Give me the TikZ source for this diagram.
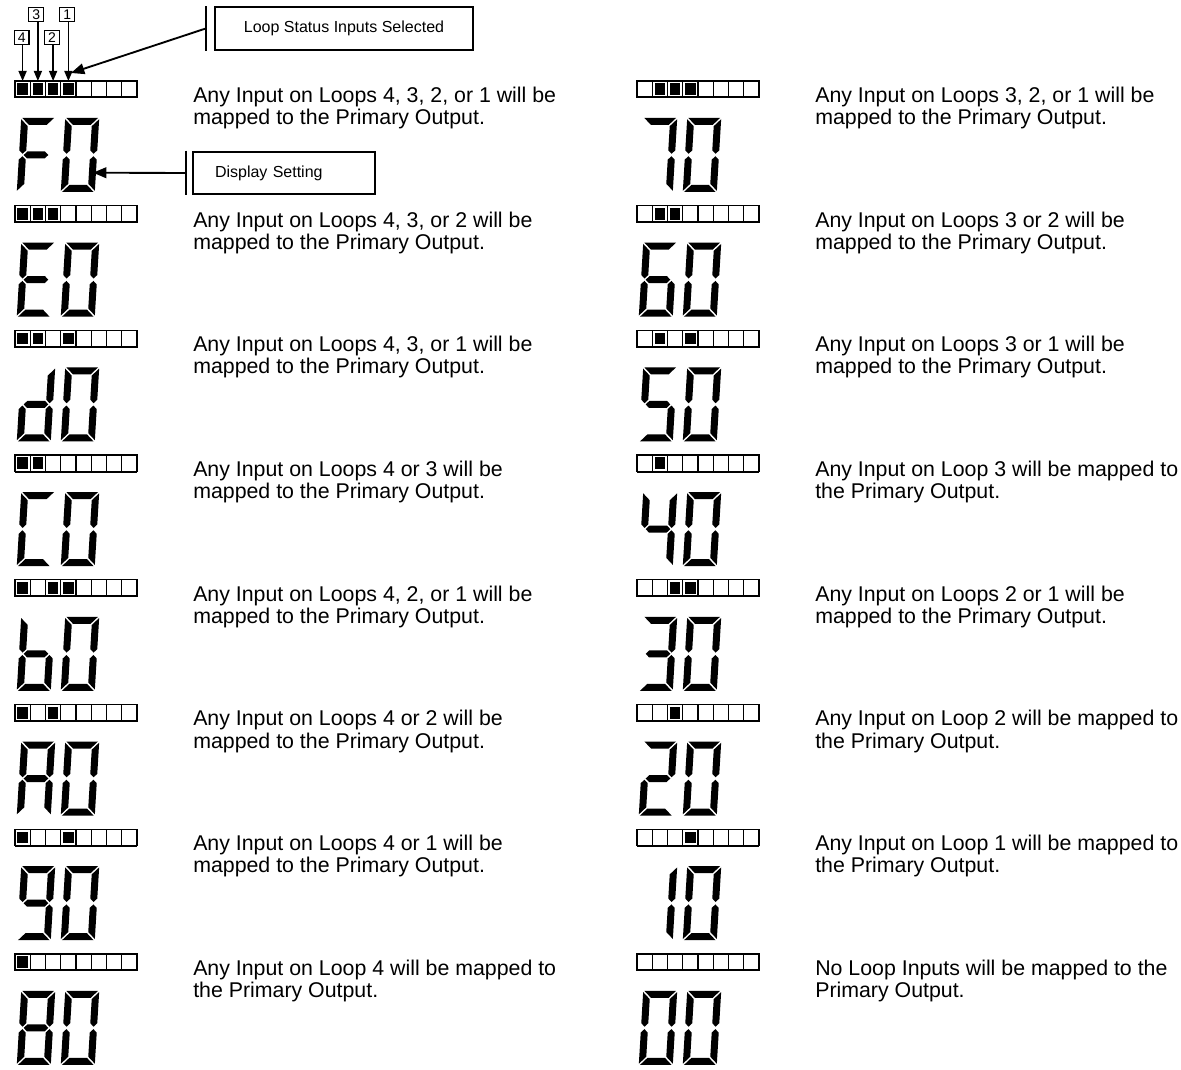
\documentclass[tikz,border=0pt]{standalone}
\usepackage{fontspec}
\setmainfont{Liberation Sans}
\usetikzlibrary{arrows.meta}
% seven-segment pieces, local px coords, origin at left of vertical middle, y down
\def\dsga{(1.2,-37) -- (32.8,-37) -- (25.8,-30) -- (8.2,-30) -- cycle}
\def\dsgf{(0,-35.8) -- (7,-28.8) -- (7,-4.7) -- (3.5,-1.2) -- (0,-4.7) -- cycle}
\def\dsgg{(4.7,0) -- (8.2,-3.5) -- (25.8,-3.5) -- (29.3,0) -- (25.8,3.5) -- (8.2,3.5) -- cycle}
\def\dsge{(0,35.8) -- (7,28.8) -- (7,4.7) -- (3.5,1.2) -- (0,4.7) -- cycle}
\def\dsgb{(34,-35.8) -- (27,-28.8) -- (27,-4.7) -- (30.5,-1.2) -- (34,-4.7) -- cycle}
\def\dsgc{(34,35.8) -- (27,28.8) -- (27,4.7) -- (30.5,1.2) -- (34,4.7) -- cycle}
\def\dsgd{(1.2,37) -- (32.8,37) -- (25.8,30) -- (8.2,30) -- cycle}
\newcommand\sevdig[3]{\edef\dglist{#3}%
  \begin{scope}[shift={(#1,#2)},xslant=0.06]
    \foreach \s in \dglist {\expandafter\expandafter\expandafter\fill\csname dsg\s\endcsname;}
  \end{scope}}
\newcommand\ledbar[3]{\edef\lblist{#3}%
  \foreach \bt [count=\k from 0] in \lblist {%
    \draw[cellline] (#1+\k*15.25,#2) rectangle ++(15.25,16.5);
    \ifnum\bt=1 \fill (#1+\k*15.25+2.3,#2+2.3) rectangle ++(10.65,11.7);\fi}
  \draw[line width=1.5pt] (#1,#2+16.5) -- ++(122,0);}
\tikzset{
  cellline/.style={line width=0.95pt},
  desc/.style={anchor=base west, align=left, inner sep=0pt, font=\fontsize{16}{16.6}\selectfont},
  numbox/.style={draw, line width=0.9pt, minimum width=11pt, minimum height=11pt, inner sep=0pt, font=\fontsize{10.5}{11}\selectfont},
  callout/.style={draw, line width=1.5pt, minimum height=32pt, inner ysep=0pt, font=\fontsize{12}{13}\selectfont},
  callbar/.style={line width=1.5pt},
  smallarr/.style={line width=1.1pt, -{Triangle[length=7.5pt,width=6pt]}},
  bigarr/.style={line width=1.4pt, -{Triangle[length=10pt,width=8pt]}}
}
\begin{document}
\begin{tikzpicture}[x=0.75pt,y=-0.75pt]
\useasboundingbox (0,0) rectangle (1181,1070);
\foreach \ex/\i/\da/\bits/\la/\lb in {
  15/0/{a,f,g,e}/{1,1,1,1,0,0,0,0}/{Any Input on Loops 4, 3, 2, or 1 will be}/{mapped to the Primary Output.},
  15/1/{a,f,g,e,d}/{1,1,1,0,0,0,0,0}/{Any Input on Loops 4, 3, or 2 will be}/{mapped to the Primary Output.},
  15/2/{b,c,d,e,g}/{1,1,0,1,0,0,0,0}/{Any Input on Loops 4, 3, or 1 will be}/{mapped to the Primary Output.},
  15/3/{a,f,e,d}/{1,1,0,0,0,0,0,0}/{Any Input on Loops 4 or 3 will be}/{mapped to the Primary Output.},
  15/4/{f,e,d,c,g}/{1,0,1,1,0,0,0,0}/{Any Input on Loops 4, 2, or 1 will be}/{mapped to the Primary Output.},
  15/5/{a,b,c,e,f,g}/{1,0,1,0,0,0,0,0}/{Any Input on Loops 4 or 2 will be}/{mapped to the Primary Output.},
  15/6/{a,b,c,d,f,g}/{1,0,0,1,0,0,0,0}/{Any Input on Loops 4 or 1 will be}/{mapped to the Primary Output.},
  15/7/{a,b,c,d,e,f,g}/{1,0,0,0,0,0,0,0}/{Any Input on Loop 4 will be mapped to}/{the Primary Output.},
  637/0/{a,b,c}/{0,1,1,1,0,0,0,0}/{Any Input on Loops 3, 2, or 1 will be}/{mapped to the Primary Output.},
  637/1/{a,f,g,e,d,c}/{0,1,1,0,0,0,0,0}/{Any Input on Loops 3 or 2 will be}/{mapped to the Primary Output.},
  637/2/{a,f,g,c,d}/{0,1,0,1,0,0,0,0}/{Any Input on Loops 3 or 1 will be}/{mapped to the Primary Output.},
  637/3/{f,g,b,c}/{0,1,0,0,0,0,0,0}/{Any Input on Loop 3 will be mapped to}/{the Primary Output.},
  637/4/{a,b,g,c,d}/{0,0,1,1,0,0,0,0}/{Any Input on Loops 2 or 1 will be}/{mapped to the Primary Output.},
  637/5/{a,b,g,e,d}/{0,0,1,0,0,0,0,0}/{Any Input on Loop 2 will be mapped to}/{the Primary Output.},
  637/6/{b,c}/{0,0,0,1,0,0,0,0}/{Any Input on Loop 1 will be mapped to}/{the Primary Output.},
  637/7/{a,b,c,d,e,f}/{0,0,0,0,0,0,0,0}/{No Loop Inputs will be mapped to the}/{Primary Output.}
}{
  \pgfmathsetmacro\ey{81+124.7*\i}
  \ledbar{\ex}{\ey}{\bits}
  \sevdig{\ex+4}{\ey+74}{\da}
  \sevdig{\ex+48}{\ey+74}{a,b,c,d,e,f}
  \node[desc] (t\ex-\i) at (\ex+178,\ey+43.5) {\la\\\lb};
}
% loop number labels
\coordinate (c0) at (22.6,81);
\coordinate (c1) at (37.9,81);
\coordinate (c2) at (53.1,81);
\coordinate (c3) at (68.4,81);
\node[numbox] (n4) at (21.7,37.5) {4};
\node[numbox] (n3) at (36.2,14.5) {3};
\node[numbox] (n2) at (51.9,37.5) {2};
\node[numbox] (n1) at (67.2,14.5) {1};
\draw[smallarr] (n4.south -| c0) -- (c0);
\draw[smallarr] (n3.south -| c1) -- (c1);
\draw[smallarr] (n2.south -| c2) -- (c2);
\draw[smallarr] (n1.south -| c3) -- (c3);
% callouts
\node[callout, minimum width=193.5pt] (ls) at (344,28.5) {Loop Status Inputs Selected};
\draw[callbar] ([xshift=-6.2pt]ls.north west) -- ([xshift=-6.2pt]ls.south west);
\coordinate (lsb) at ([xshift=-6.2pt]ls.west);
\coordinate (lstip) at (71,73);
\draw[bigarr] (lsb) -- (lstip);
\node[callout, align=left, text width=103.5pt, inner xsep=16.5pt] (ds) at (284,173) {Display Setting};
\draw[callbar] ([xshift=-4.5pt]ds.north west) -- ([xshift=-4.5pt]ds.south west);
\coordinate (dsb) at ([xshift=-4.5pt]ds.west);
\coordinate (dstip) at (93,172.7);
\draw[bigarr] (dsb) -- (dstip);
\end{tikzpicture}
\end{document}
